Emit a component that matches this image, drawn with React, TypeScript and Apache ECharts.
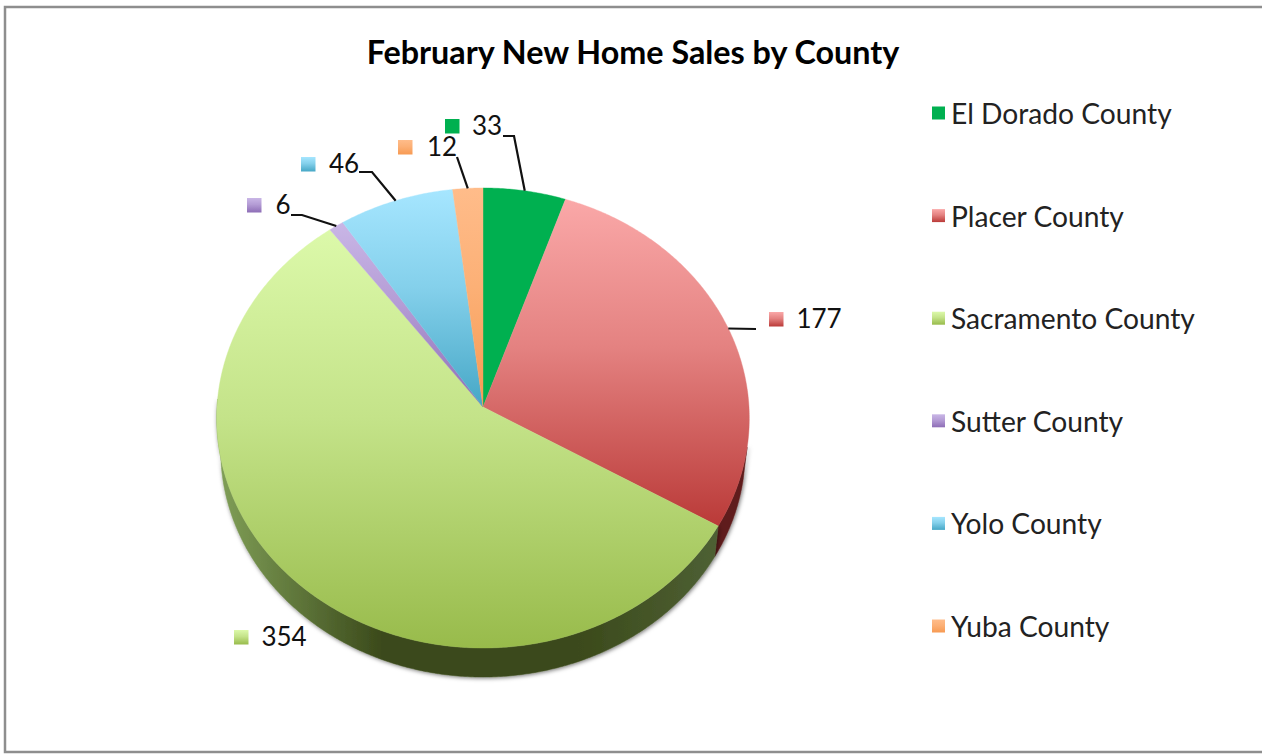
import React, { useEffect, useRef } from "react";
import * as echarts from "echarts";

const TITLE = "February New Home Sales by County";
const COUNTIES = ["El Dorado County", "Placer County", "Sacramento County", "Sutter County", "Yolo County", "Yuba County"];
const VALUES = [33, 177, 354, 6, 46, 12];

const FACE_TOP = ["#00b050", "#faa8a8", "#dcf9aa", "#c9b6e6", "#a6e6ff", "#ffbc8a"];
const FACE_BOTTOM = ["#00b050", "#ba3a38", "#98bb4b", "#8d6db6", "#46a7c6", "#f79a52"];
const WALL_LEFT = ["#00702f", "#5e1b1a", "#81a058", "#5a4575", "#2f6f85", "#9a5f30"];
const WALL_MID = ["#00702f", "#5e1b1a", "#3b4a1b", "#5a4575", "#2f6f85", "#9a5f30"];
const WALL_RIGHT = ["#00702f", "#5e1b1a", "#4e6034", "#5a4575", "#2f6f85", "#9a5f30"];

// label layout: key-square left, text centre, centre y, optional elbow
const LABEL_KEY_X = [445, 769, 234, 247, 301, 398];
const LABEL_TEXT_X = [487, 819, 284, 283, 344, 442];
const LABEL_Y = [125, 318, 636, 204, 163, 146];
const LEADER_START: (number[] | null)[] = [[503, 136], [756, 329], null, [291, 215], [359, 172], [457, 157]];
const LEADER_ELBOW: (number[] | null)[] = [[514, 136], null, null, [302, 215], [372, 172], null];

const FONT = "Lato";
const CX = 483;
const CY = 407;
const RX = 266;
const RY = 229.5;
const K = 0.0478;
const DEPTH = 32.6;
const BASE_SCALE = 0.985;

const TOTAL = VALUES.reduce((a, b) => a + b, 0);
const startAngle = (i: number) => (VALUES.slice(0, i).reduce((a, b) => a + b, 0) / TOTAL) * 360;

function project(deg: number, scale = 1, dy = 0): number[] {
  const t = (deg * Math.PI) / 180;
  const u = Math.sin(t);
  const v = -Math.cos(t);
  const d = 1 - K * v;
  return [CX + (scale * RX * u) / d, CY + dy + (scale * RY * v) / d];
}

function arc(a: number, b: number, scale = 1, dy = 0): number[][] {
  const n = Math.max(2, Math.ceil(Math.abs(b - a) * 2));
  const pts: number[][] = [];
  for (let i = 0; i <= n; i++) pts.push(project(a + ((b - a) * i) / n, scale, dy));
  return pts;
}

const vertical = (top: string, bottom: string) =>
  new echarts.graphic.LinearGradient(0, 0, 0, 1, [
    { offset: 0, color: top },
    { offset: 0.45, color: top === bottom ? top : echarts.color.lerp(0.35, [top, bottom]) },
    { offset: 1, color: bottom },
  ]);

const horizontal = (l: string, m: string, r: string) =>
  new echarts.graphic.LinearGradient(0, 0, 1, 0, [
    { offset: 0, color: l },
    { offset: 0.33, color: m },
    { offset: 0.72, color: m },
    { offset: 1, color: r },
  ]);

function renderWall(params: any) {
  const i = params.dataIndex;
  const a = startAngle(i);
  const b = a + (VALUES[i] / TOTAL) * 360;
  const from = Math.max(a, 100);
  const to = Math.min(b, 272);
  if (to <= from) return { type: "group", children: [] };
  const top = arc(from, to);
  const base = arc(from, to, BASE_SCALE, DEPTH).reverse();
  const fill = horizontal(WALL_LEFT[i], WALL_MID[i], WALL_RIGHT[i]);
  return {
    type: "polygon",
    shape: { points: top.concat(base) },
    style: {
      fill,
      stroke: fill,
      lineWidth: 0.5,
      shadowColor: "rgba(0,0,0,0.55)",
      shadowBlur: 4,
      shadowOffsetY: 1,
      shadowOffsetX: 1,
    },
    silent: true,
  };
}

function renderFace(i: number) {
  return () => {
    const a = startAngle(i);
    const b = a + (VALUES[i] / TOTAL) * 360;
    const fill = vertical(FACE_TOP[i], FACE_BOTTOM[i]);
    const children: any[] = [
      {
        type: "polygon",
        shape: { points: [[CX, CY], ...arc(a, b)] },
        style: { fill, stroke: fill, lineWidth: 0.4 },
      },
      {
        type: "rect",
        shape: { x: LABEL_KEY_X[i], y: LABEL_Y[i] - 6, width: 14.5, height: 14.5 },
        style: { fill: vertical(FACE_TOP[i], FACE_BOTTOM[i]) },
      },
      {
        type: "text",
        style: {
          text: String(VALUES[i]),
          x: LABEL_TEXT_X[i],
          y: LABEL_Y[i],
          align: "center",
          verticalAlign: "middle",
          fill: "#111111",
          fontFamily: FONT,
          fontSize: 26,
        },
      },
    ];
    const start = LEADER_START[i];
    if (start) {
      const elbow = LEADER_ELBOW[i];
      const end = project((a + b) / 2);
      children.push({
        type: "polyline",
        shape: { points: elbow ? [start, elbow, end] : [start, end] },
        style: { stroke: "#111111", lineWidth: 2.2, fill: "none" },
      });
    }
    return { type: "group", children };
  };
}

export default function App() {
  const ref = useRef<HTMLDivElement>(null);
  useEffect(() => {
    document.body.style.margin = "0";
    const chart = echarts.init(ref.current!, undefined, { renderer: "svg" });
    chart.setOption({
      animation: false,
      backgroundColor: "#ffffff",
      title: {
        text: TITLE,
        left: 628,
        top: 30,
        textAlign: "center",
        textStyle: { fontFamily: FONT, fontWeight: "bold", fontSize: 32.3, color: "#000000" },
      },
      legend: {
        data: COUNTIES,
        orient: "vertical",
        left: 927,
        top: 94,
        icon: "rect",
        itemWidth: 13,
        itemHeight: 13,
        itemGap: 74.6,
        selectedMode: false,
        textStyle: { fontFamily: FONT, fontSize: 28.2, lineHeight: 26, color: "#222222", padding: [0, 0, 0, 1] },
      },
      graphic: [
        {
          type: "polyline",
          silent: true,
          shape: { points: [[1262, 7], [5, 7], [5, 752], [1262, 752]] },
          style: { stroke: "#8e8e8e", lineWidth: 2.5, fill: "none" },
        },
      ],
      series: [
        {
          type: "custom",
          name: "walls",
          coordinateSystem: "none",
          z: 1,
          silent: true,
          data: VALUES,
          renderItem: renderWall,
        },
        ...COUNTIES.map((name, i) => ({
          type: "custom",
          name,
          coordinateSystem: "none",
          z: 2,
          silent: true,
          data: [VALUES[i]],
          itemStyle: { color: vertical(FACE_TOP[i], FACE_BOTTOM[i]) },
          renderItem: renderFace(i),
        })),
      ],
    });
    return () => chart.dispose();
  }, []);
  return <div ref={ref} style={{ position: "fixed", left: 0, top: 0, width: 1262, height: 754 }} />;
}
